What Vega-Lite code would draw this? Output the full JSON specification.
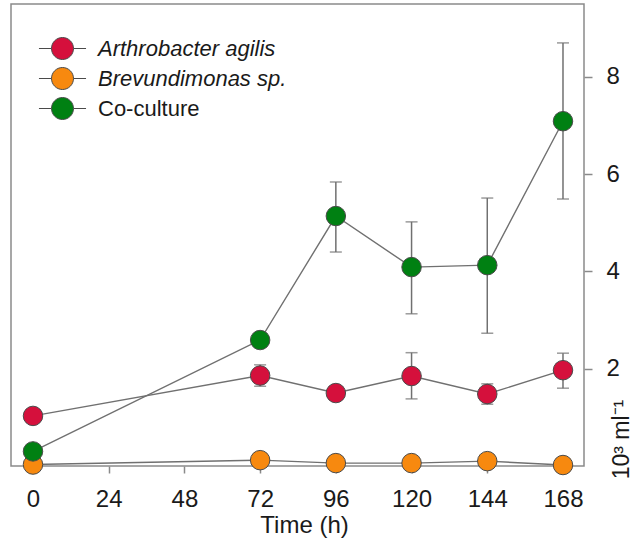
{
  "$schema": "https://vega.github.io/schema/vega-lite/v6.json",
  "width": 573,
  "height": 462,
  "autosize": {"type": "none"},
  "padding": {"left": 11, "top": 4, "right": 59, "bottom": 81},
  "background": "white",
  "config": {
    "view": {"stroke": "#8a8a8a", "strokeWidth": 1.5},
    "font": "Liberation Sans"
  },
  "data": {
    "values": [
      {"series": "Arthrobacter agilis", "t": 0, "y": 1.03, "lo": null, "hi": null},
      {"series": "Arthrobacter agilis", "t": 72, "y": 1.86, "lo": 1.64, "hi": 2.08},
      {"series": "Arthrobacter agilis", "t": 96, "y": 1.5, "lo": null, "hi": null},
      {"series": "Arthrobacter agilis", "t": 120, "y": 1.85, "lo": 1.38, "hi": 2.33},
      {"series": "Arthrobacter agilis", "t": 144, "y": 1.48, "lo": 1.27, "hi": 1.69},
      {"series": "Arthrobacter agilis", "t": 168, "y": 1.97, "lo": 1.6, "hi": 2.32},
      {"series": "Brevundimonas sp.", "t": 0, "y": 0.03, "lo": null, "hi": null},
      {"series": "Brevundimonas sp.", "t": 72, "y": 0.12, "lo": null, "hi": null},
      {"series": "Brevundimonas sp.", "t": 96, "y": 0.06, "lo": null, "hi": null},
      {"series": "Brevundimonas sp.", "t": 120, "y": 0.06, "lo": null, "hi": null},
      {"series": "Brevundimonas sp.", "t": 144, "y": 0.1, "lo": null, "hi": null},
      {"series": "Brevundimonas sp.", "t": 168, "y": 0.02, "lo": null, "hi": null},
      {"series": "Co-culture", "t": 0, "y": 0.3, "lo": null, "hi": null},
      {"series": "Co-culture", "t": 72, "y": 2.59, "lo": null, "hi": null},
      {"series": "Co-culture", "t": 96, "y": 5.14, "lo": 4.4, "hi": 5.84},
      {"series": "Co-culture", "t": 120, "y": 4.09, "lo": 3.13, "hi": 5.02},
      {"series": "Co-culture", "t": 144, "y": 4.13, "lo": 2.73, "hi": 5.51},
      {"series": "Co-culture", "t": 168, "y": 7.09, "lo": 5.49, "hi": 8.7}
    ]
  },
  "encoding": {
    "x": {
      "field": "t",
      "type": "quantitative",
      "scale": {"domain": [-6.97, 174.66], "nice": false, "zero": false},
      "axis": {
        "title": "Time (h)",
        "values": [0, 24, 48, 72, 96, 120, 144, 168],
        "domain": false,
        "grid": false,
        "tickColor": "#8a8a8a",
        "tickWidth": 1.5,
        "tickSize": 7,
        "labelFontSize": 24,
        "labelColor": "#1a1a1a",
        "labelPadding": 14,
        "labelFont": "Liberation Sans",
        "titleFont": "Liberation Sans",
        "titleFontSize": 24,
        "titleFontWeight": "normal",
        "titleColor": "#1a1a1a",
        "titleBaseline": "alphabetic",
        "titleY": 66,
        "titleX": 293
      }
    },
    "y": {
      "field": "y",
      "type": "quantitative",
      "scale": {"domain": [0, 9.5], "nice": false, "zero": false},
      "axis": {
        "orient": "right",
        "title": "10³ ml⁻¹",
        "values": [2, 4, 6, 8],
        "domain": false,
        "grid": false,
        "tickColor": "#8a8a8a",
        "tickWidth": 1.5,
        "tickSize": 8,
        "labelFontSize": 24,
        "labelColor": "#1a1a1a",
        "labelPadding": 14,
        "labelFont": "Liberation Sans",
        "titleFont": "Liberation Sans",
        "titleFontSize": 23,
        "titleFontWeight": "normal",
        "titleColor": "#1a1a1a",
        "titleAngle": 270,
        "titleAlign": "center",
        "titleBaseline": "alphabetic",
        "titleX": 44,
        "titleY": 435
      }
    }
  },
  "layer": [
    {
      "mark": {"type": "line", "color": "#707070", "strokeWidth": 1.4},
      "encoding": {"detail": {"field": "series"}}
    },
    {
      "transform": [{"filter": "datum.lo != null"}],
      "mark": {
        "type": "errorbar",
        "ticks": {"size": 12, "color": "#707070", "thickness": 1.5},
        "rule": {"color": "#707070", "strokeWidth": 1.5}
      },
      "encoding": {
        "y": {"field": "lo", "type": "quantitative"},
        "y2": {"field": "hi"},
        "detail": {"field": "series"}
      }
    },
    {
      "mark": {"type": "point", "filled": true, "opacity": 1, "size": 380, "shape": "circle", "stroke": "#4a4a4a", "strokeWidth": 1},
      "encoding": {
        "color": {
          "field": "series",
          "type": "nominal",
          "scale": {
            "domain": ["Arthrobacter agilis", "Brevundimonas sp.", "Co-culture"],
            "range": ["#d5103c", "#f7890f", "#008012"]
          },
          "legend": {
            "title": null,
            "orient": "none",
            "legendX": 40,
            "legendY": 33,
            "padding": 0,
            "symbolType": "M-2.14,0L-1,0M1,0L2.14,0M-1,0A1,1 0 1,1 1,0A1,1 0 1,1 -1,0Z",
            "symbolSize": 484,
            "symbolStrokeColor": "#4a4a4a",
            "symbolStrokeWidth": 1,
            "symbolOpacity": 1,
            "labelFontSize": 22,
            "labelFont": "Liberation Sans",
            "labelColor": "#1a1a1a",
            "labelOffset": 24,
            "rowPadding": 3,
            "labelLimit": 400,
            "encode": {
              "labels": {
                "update": {
                  "fontStyle": {"signal": "datum.label === 'Co-culture' ? 'normal' : 'italic'"}
                }
              }
            }
          }
        }
      }
    }
  ]
}
